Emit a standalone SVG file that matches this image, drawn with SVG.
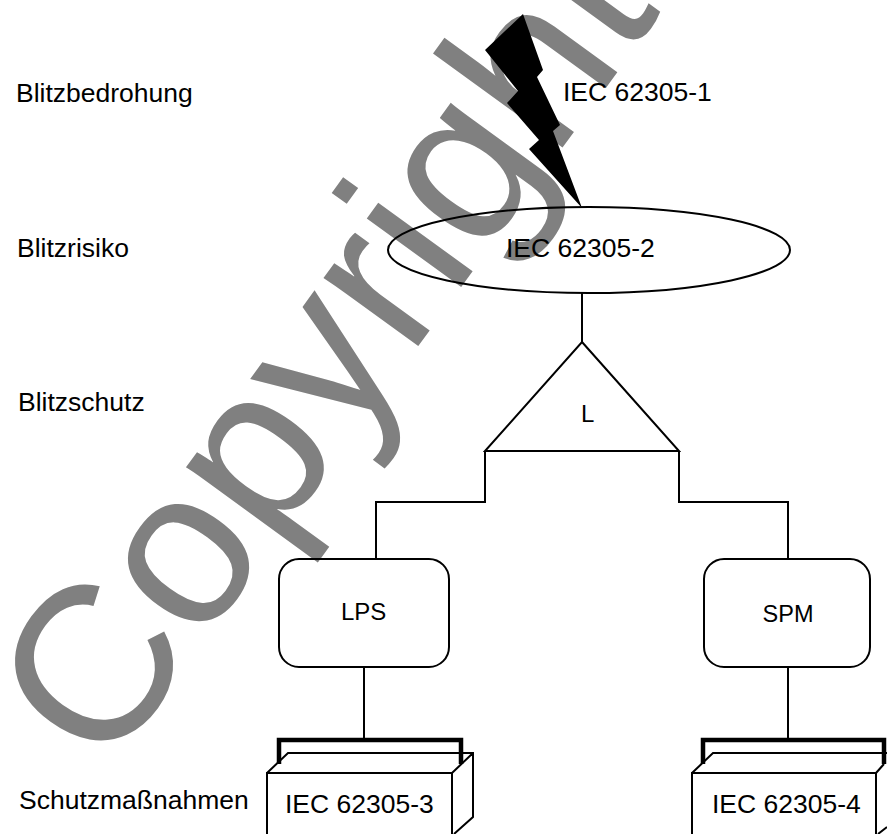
<svg xmlns="http://www.w3.org/2000/svg" width="887" height="834" viewBox="0 0 887 834">
<style>
text{font-family:"Liberation Sans",Arial,sans-serif;fill:#000}
.lbl{font-size:26.5px}
.wm{font-size:221px;fill:#808080}
.ln{fill:none;stroke:#000;stroke-width:2}
.box{fill:none;stroke:#000;stroke-width:2}
.br{fill:none;stroke:#000;stroke-width:4.5}
</style>
<rect width="887" height="834" fill="#fff"/>
<text id="watermark" class="wm" transform="translate(106 776) rotate(-54)">Copyright</text>
<g id="connectors">
<path class="ln" d="M582 293V342"/>
<path class="ln" d="M485 451V502H376V559"/>
<path class="ln" d="M679 451V502H788V559"/>
<path class="ln" d="M364 667V740"/>
<path class="ln" d="M788 667V740"/>
</g>
<g id="label-blitzbedrohung"><text class="lbl" x="16" y="102">Blitzbedrohung</text></g>
<g id="label-blitzrisiko"><text class="lbl" x="17" y="257">Blitzrisiko</text></g>
<g id="label-blitzschutz"><text class="lbl" x="18" y="411">Blitzschutz</text></g>
<g id="label-schutz"><text class="lbl" x="19" y="809">Schutzmaßnahmen</text></g>
<g id="lightning"><polygon fill="#000" points="523,14 543,70 537,77 560,125 553,131 582,208 529,149 539,140 507,103 518,91 485,50"/><text class="lbl" x="563" y="101">IEC 62305-1</text></g>
<g id="risk"><ellipse class="ln" cx="589" cy="250" rx="201" ry="43"/><text class="lbl" x="506" y="257">IEC 62305-2</text></g>
<g id="triangle"><polygon class="ln" points="582,342 679,451 485,451"/><text x="581" y="422" font-size="24">L</text></g>
<g id="lps"><rect class="box" x="279" y="559" width="170" height="108" rx="20"/><text x="341" y="620" font-size="24">LPS</text></g>
<g id="spm"><rect class="box" x="704" y="559" width="166" height="108" rx="20"/><text x="788" y="622" font-size="23.5" text-anchor="middle">SPM</text></g>
<g id="iec3"><path class="br" d="M279 764V740H461V764"/><path class="ln" d="M267 834V773H452V834M267 773L288 753H473V817L454 834M452 773L473 753"/><text class="lbl" x="285" y="813">IEC 62305-3</text></g>
<g id="iec4"><path class="br" d="M703 764V740H884V764"/><path class="ln" d="M692 834V773H876V834M692 773L713 753H887M876 773L884 764M878 834L887 827"/><text class="lbl" x="712" y="813">IEC 62305-4</text></g>
</svg>
